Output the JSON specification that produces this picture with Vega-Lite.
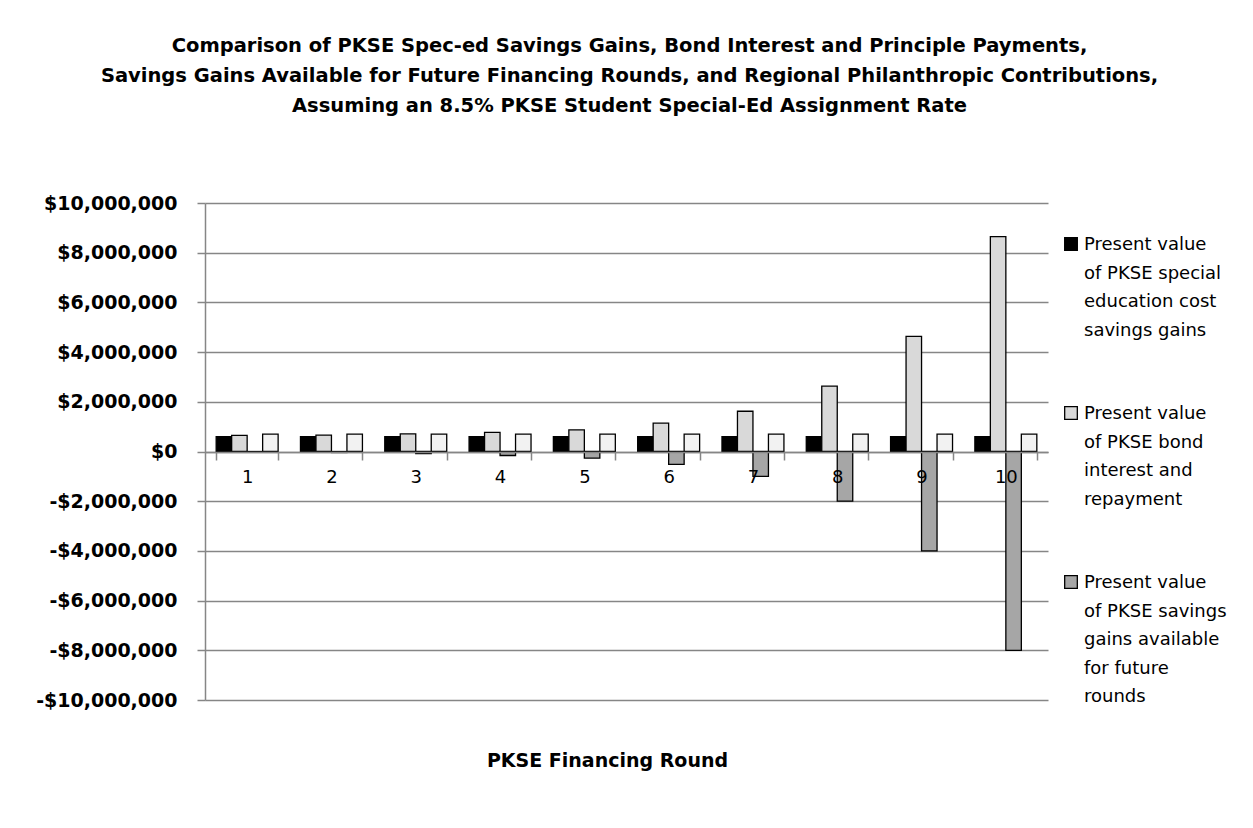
{
  "$schema": "https://vega.github.io/schema/vega-lite/v6.json",
  "autosize": "none",
  "width": 843,
  "height": 497,
  "padding": {"left": 205, "top": 203, "right": 205, "bottom": 128},
  "background": "white",
  "title": {
    "text": [
      "Comparison of PKSE Spec-ed Savings Gains, Bond Interest and Principle Payments,",
      "Savings Gains Available  for Future Financing Rounds, and Regional Philanthropic Contributions,",
      "Assuming an 8.5% PKSE Student Special-Ed Assignment Rate"
    ],
    "font": "DejaVu Sans",
    "fontSize": 19.5,
    "fontWeight": "bold",
    "color": "#000000",
    "lineHeight": 30,
    "anchor": "middle",
    "offset": 78,
    "dx": 3
  },
  "data": {
    "values": [
      {"round": 1, "series": "Present value of PKSE special education cost savings gains", "value": 600000},
      {"round": 1, "series": "Present value of PKSE bond interest and repayment", "value": 650000},
      {"round": 1, "series": "Present value of PKSE savings gains available for future rounds", "value": -30000},
      {"round": 1, "series": "Present value of regional philanthropic contributions", "value": 700000},
      {"round": 2, "series": "Present value of PKSE special education cost savings gains", "value": 600000},
      {"round": 2, "series": "Present value of PKSE bond interest and repayment", "value": 660000},
      {"round": 2, "series": "Present value of PKSE savings gains available for future rounds", "value": -40000},
      {"round": 2, "series": "Present value of regional philanthropic contributions", "value": 700000},
      {"round": 3, "series": "Present value of PKSE special education cost savings gains", "value": 600000},
      {"round": 3, "series": "Present value of PKSE bond interest and repayment", "value": 710000},
      {"round": 3, "series": "Present value of PKSE savings gains available for future rounds", "value": -80000},
      {"round": 3, "series": "Present value of regional philanthropic contributions", "value": 700000},
      {"round": 4, "series": "Present value of PKSE special education cost savings gains", "value": 600000},
      {"round": 4, "series": "Present value of PKSE bond interest and repayment", "value": 770000},
      {"round": 4, "series": "Present value of PKSE savings gains available for future rounds", "value": -160000},
      {"round": 4, "series": "Present value of regional philanthropic contributions", "value": 700000},
      {"round": 5, "series": "Present value of PKSE special education cost savings gains", "value": 600000},
      {"round": 5, "series": "Present value of PKSE bond interest and repayment", "value": 870000},
      {"round": 5, "series": "Present value of PKSE savings gains available for future rounds", "value": -270000},
      {"round": 5, "series": "Present value of regional philanthropic contributions", "value": 700000},
      {"round": 6, "series": "Present value of PKSE special education cost savings gains", "value": 600000},
      {"round": 6, "series": "Present value of PKSE bond interest and repayment", "value": 1140000},
      {"round": 6, "series": "Present value of PKSE savings gains available for future rounds", "value": -520000},
      {"round": 6, "series": "Present value of regional philanthropic contributions", "value": 700000},
      {"round": 7, "series": "Present value of PKSE special education cost savings gains", "value": 600000},
      {"round": 7, "series": "Present value of PKSE bond interest and repayment", "value": 1620000},
      {"round": 7, "series": "Present value of PKSE savings gains available for future rounds", "value": -1000000},
      {"round": 7, "series": "Present value of regional philanthropic contributions", "value": 700000},
      {"round": 8, "series": "Present value of PKSE special education cost savings gains", "value": 600000},
      {"round": 8, "series": "Present value of PKSE bond interest and repayment", "value": 2630000},
      {"round": 8, "series": "Present value of PKSE savings gains available for future rounds", "value": -2000000},
      {"round": 8, "series": "Present value of regional philanthropic contributions", "value": 700000},
      {"round": 9, "series": "Present value of PKSE special education cost savings gains", "value": 600000},
      {"round": 9, "series": "Present value of PKSE bond interest and repayment", "value": 4630000},
      {"round": 9, "series": "Present value of PKSE savings gains available for future rounds", "value": -4000000},
      {"round": 9, "series": "Present value of regional philanthropic contributions", "value": 700000},
      {"round": 10, "series": "Present value of PKSE special education cost savings gains", "value": 600000},
      {"round": 10, "series": "Present value of PKSE bond interest and repayment", "value": 8650000},
      {"round": 10, "series": "Present value of PKSE savings gains available for future rounds", "value": -8000000},
      {"round": 10, "series": "Present value of regional philanthropic contributions", "value": 700000}
    ]
  },
  "mark": {"type": "bar", "stroke": "#000000", "strokeWidth": 1.3},
  "encoding": {
    "x": {
      "field": "round",
      "type": "ordinal",
      "scale": {"paddingInner": 0.265, "paddingOuter": 0.1325},
      "axis": {
        "title": "PKSE Financing Round",
        "titleFont": "DejaVu Sans",
        "titleFontSize": 19,
        "titleFontWeight": "bold",
        "titleColor": "#000000",
        "titlePadding": 265,
        "titleX": 402,
        "offset": -248,
        "zindex": 1,
        "labelAngle": 0,
        "labelFont": "DejaVu Sans",
        "labelFontSize": 18,
        "labelColor": "#000000",
        "labelPadding": 8,
        "tickBand": "extent",
        "tickColor": "#868686",
        "tickSize": 8,
        "domainColor": "#868686",
        "domainWidth": 1.5,
        "grid": false
      }
    },
    "xOffset": {
      "field": "series",
      "type": "nominal",
      "sort": [
        "Present value of PKSE special education cost savings gains",
        "Present value of PKSE bond interest and repayment",
        "Present value of PKSE savings gains available for future rounds",
        "Present value of regional philanthropic contributions"
      ],
      "scale": {"paddingInner": 0, "paddingOuter": 0}
    },
    "y": {
      "field": "value",
      "type": "quantitative",
      "scale": {"domain": [-10000000, 10000000], "nice": false},
      "axis": {
        "title": null,
        "values": [-10000000, -8000000, -6000000, -4000000, -2000000, 0, 2000000, 4000000, 6000000, 8000000, 10000000],
        "labelExpr": "(datum.value < 0 ? '-' : '') + '$' + format(abs(datum.value), ',')",
        "labelFont": "DejaVu Sans",
        "labelFontSize": 19,
        "labelFontWeight": "bold",
        "labelColor": "#000000",
        "labelPadding": 20,
        "tickSize": 8,
        "tickColor": "#868686",
        "domainColor": "#868686",
        "domainWidth": 1.5,
        "grid": true,
        "gridColor": "#868686",
        "gridWidth": 1.5
      }
    },
    "color": {
      "field": "series",
      "type": "nominal",
      "scale": {
        "domain": [
          "Present value of PKSE special education cost savings gains",
          "Present value of PKSE bond interest and repayment",
          "Present value of PKSE savings gains available for future rounds",
          "Present value of regional philanthropic contributions"
        ],
        "range": ["#000000", "#d9d9d9", "#a6a6a6", "#f2f2f2"]
      },
      "legend": {
        "values": [
          "Present value of PKSE special education cost savings gains",
          "Present value of PKSE bond interest and repayment",
          "Present value of PKSE savings gains available for future rounds"
        ],
        "title": null,
        "orient": "none",
        "legendX": 857,
        "legendY": 32,
        "symbolType": "square",
        "symbolSize": 160,
        "symbolStrokeColor": "#000000",
        "symbolStrokeWidth": 1.3,
        "labelExpr": "datum.label == 'Present value of PKSE special education cost savings gains' ? ['Present value', 'of PKSE special', 'education cost', 'savings gains'] : datum.label == 'Present value of PKSE bond interest and repayment' ? ['Present value', 'of PKSE bond', 'interest and', 'repayment'] : ['Present value', 'of PKSE savings', 'gains available', 'for future', 'rounds']",
        "labelFont": "DejaVu Sans",
        "labelFontSize": 18,
        "labelColor": "#000000",
        "labelLimit": 0,
        "labelBaseline": "alphabetic",
        "labelOffset": 4,
        "rowPadding": 64,
        "encode": {
          "labels": {
            "update": {
              "lineHeight": {"value": 28.5},
              "dy": {"value": 6}
            }
          }
        }
      }
    }
  },
  "config": {
    "view": {"stroke": null},
    "axis": {"tickWidth": 1.5}
  }
}
